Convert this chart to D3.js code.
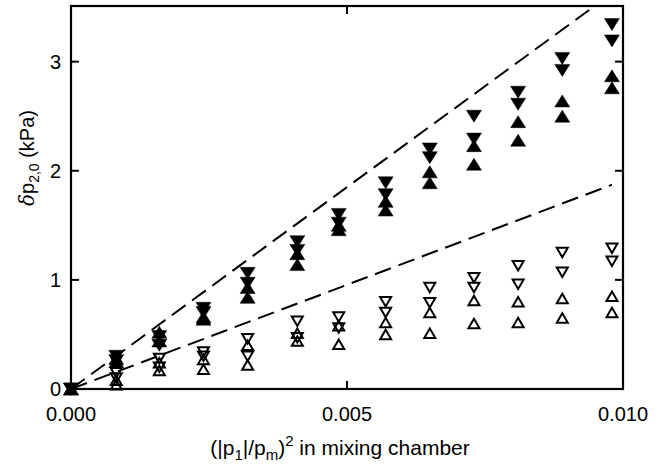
<!DOCTYPE html>
<html>
<head>
<meta charset="utf-8">
<script src="https://cdn.jsdelivr.net/npm/d3@7"></script>
<style>
  html, body { margin: 0; padding: 0; background: #fff; }
  svg { display: block; }
  text { font-family: "Liberation Sans", Arial, Helvetica, sans-serif; fill: #000; }
</style>
</head>
<body>
<svg id="chart" width="663" height="466"></svg>
<script>
// ---- data ----
const xValues = [0, 0.00082, 0.0016, 0.0024, 0.0032, 0.0041, 0.00485, 0.0057, 0.0065, 0.0073, 0.0081, 0.0089, 0.0098];
const filledDownA = [0, 0.30, 0.48, 0.74, 1.06, 1.35, 1.60, 1.89, 2.20, 2.50, 2.72, 3.03, 3.34];
const filledDownB = [0, 0.26, 0.40, 0.70, 0.97, 1.27, 1.52, 1.78, 2.12, 2.29, 2.61, 2.92, 3.19];
const filledUpA   = [0, 0.28, 0.52, 0.66, 0.93, 1.24, 1.50, 1.72, 1.99, 2.23, 2.45, 2.64, 2.87];
const filledUpB   = [0, 0.25, 0.44, 0.64, 0.84, 1.14, 1.46, 1.64, 1.89, 2.06, 2.28, 2.50, 2.76];
const openDownA   = [0, 0.15, 0.28, 0.34, 0.46, 0.62, 0.66, 0.80, 0.93, 1.02, 1.13, 1.25, 1.29];
const openDownB   = [0, 0.10, 0.20, 0.30, 0.30, 0.47, 0.56, 0.70, 0.79, 0.93, 0.96, 1.07, 1.17];
const openUpA     = [0, 0.08, 0.24, 0.27, 0.40, 0.51, 0.58, 0.61, 0.70, 0.81, 0.80, 0.83, 0.85];
const openUpB     = [0, 0.04, 0.17, 0.18, 0.22, 0.44, 0.41, 0.50, 0.51, 0.60, 0.61, 0.65, 0.70];
const fitSlopes = [370, 191];       // kPa per unit of (|p1|/pm)^2
const fitEnds   = [0.0100, 0.0098];
const xTicks = [0, 0.005, 0.010];
const xTickLabels = ["0.000", "0.005", "0.010"];
const yTicks = [0, 1, 2, 3];
const yTickLabels = ["0", "1", "2", "3"];

// ---- layout ----
const svg = d3.select("#chart");
const L = 71, R = 623, T = 6, B = 389;
const x = d3.scaleLinear().domain([0, 0.010]).range([L, R]);
const y = d3.scaleLinear().domain([0, 3.51]).range([B, T]);

svg.append("defs").append("clipPath").attr("id", "plotclip")
  .append("rect").attr("x", L).attr("y", T).attr("width", R - L).attr("height", B - T);

// fit lines
const plot = svg.append("g").attr("clip-path", "url(#plotclip)");
const lineGen = d3.line().x(d => x(d[0])).y(d => y(d[1]));
fitSlopes.forEach((s, i) => {
  plot.append("path")
    .attr("d", lineGen([[0, 0], [fitEnds[i], s * fitEnds[i]]]))
    .attr("fill", "none").attr("stroke", "#000").attr("stroke-width", 2)
    .attr("stroke-dasharray", "17,8");
});

// markers
const upPath = (w, h) => `M0,${-h/2}L${w/2},${h/2}L${-w/2},${h/2}Z`;
const downPath = (w, h) => `M0,${h/2}L${w/2},${-h/2}L${-w/2},${-h/2}Z`;
const seriesList = [
  { vals: openUpA, shape: upPath(11, 9.5), fill: "none" },
  { vals: openUpB, shape: upPath(11, 9.5), fill: "none" },
  { vals: openDownA, shape: downPath(11, 9.5), fill: "none" },
  { vals: openDownB, shape: downPath(11, 9.5), fill: "none" },
  { vals: filledUpA, shape: upPath(15, 12), fill: "#000" },
  { vals: filledUpB, shape: upPath(15, 12), fill: "#000" },
  { vals: filledDownA, shape: downPath(15, 12), fill: "#000" },
  { vals: filledDownB, shape: downPath(15, 12), fill: "#000" }
];
const mk = svg.append("g");
seriesList.forEach(s => {
  mk.selectAll(null).data(s.vals.map((v, i) => [xValues[i], v]))
    .enter().append("path")
    .attr("d", s.shape)
    .attr("transform", d => `translate(${x(d[0])},${y(d[1])})`)
    .attr("fill", s.fill)
    .attr("stroke", "#000")
    .attr("stroke-width", s.fill === "none" ? 2 : 0.5)
    .attr("stroke-linejoin", "miter");
});

// frame
svg.append("rect").attr("x", L).attr("y", T).attr("width", R - L).attr("height", B - T)
  .attr("fill", "none").attr("stroke", "#000").attr("stroke-width", 2.2);

// ticks (inward)
const tk = svg.append("g").attr("stroke", "#000").attr("stroke-width", 2);
xTicks.slice(1, -1).forEach(t => {
  tk.append("line").attr("x1", x(t)).attr("x2", x(t)).attr("y1", B).attr("y2", B - 8);
  tk.append("line").attr("x1", x(t)).attr("x2", x(t)).attr("y1", T).attr("y2", T + 8);
});
yTicks.slice(1).forEach(t => {
  tk.append("line").attr("x1", L).attr("x2", L + 8).attr("y1", y(t)).attr("y2", y(t));
  tk.append("line").attr("x1", R).attr("x2", R - 8).attr("y1", y(t)).attr("y2", y(t));
});

// tick labels
svg.append("g").selectAll("text").data(xTicks).enter().append("text")
  .attr("x", d => x(d)).attr("y", 421).attr("text-anchor", "middle")
  .attr("font-size", 20).attr("fill", "#000").text((d, i) => xTickLabels[i]);
svg.append("g").selectAll("text").data(yTicks).enter().append("text")
  .attr("x", 61).attr("y", d => y(d) + 7).attr("text-anchor", "end")
  .attr("font-size", 20).attr("fill", "#000").text((d, i) => yTickLabels[i]);

// x label
const xl = svg.append("text").attr("x", 340).attr("y", 455)
  .attr("text-anchor", "middle").attr("font-size", 21).attr("fill", "#000");
xl.append("tspan").text("(|p");
xl.append("tspan").attr("font-size", 15).attr("dy", 5).text("1");
xl.append("tspan").attr("dy", -5).text("|/p");
xl.append("tspan").attr("font-size", 15).attr("dy", 5).text("m");
xl.append("tspan").attr("dy", -5).text(")");
xl.append("tspan").attr("font-size", 15).attr("dy", -9).text("2");
xl.append("tspan").attr("dy", 9).text(" in mixing chamber");

// y label
const yl = svg.append("text").attr("transform", `translate(34,158) rotate(-90)`)
  .attr("text-anchor", "middle").attr("font-size", 20).attr("fill", "#000");
yl.append("tspan").attr("font-family", "'DejaVu Serif', 'Liberation Serif', serif")
  .attr("font-style", "italic").attr("fill", "#000").text("δ");
yl.append("tspan").attr("fill", "#000").text("p");
yl.append("tspan").attr("font-size", 14).attr("dy", 5).attr("fill", "#000").text("2,0");
yl.append("tspan").attr("dy", -5).attr("fill", "#000").text(" (kPa)");
</script>
</body>
</html>
